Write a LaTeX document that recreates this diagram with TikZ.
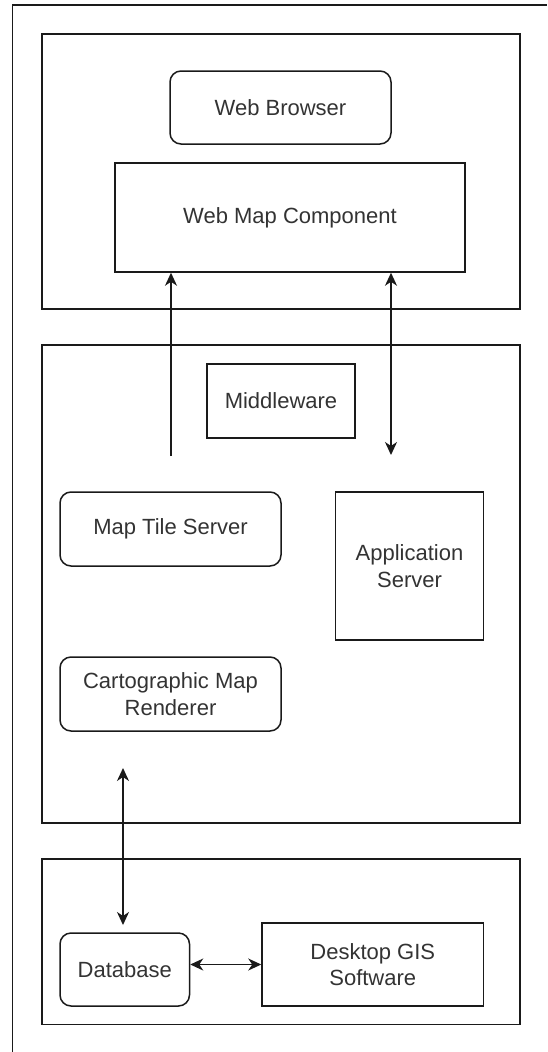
\documentclass[tikz,border=0pt]{standalone}
\usepackage{fontspec}
\setmainfont{Liberation Sans}
\usetikzlibrary{arrows.meta}
\definecolor{txt}{HTML}{333333}
\definecolor{ln}{HTML}{1A1A1A}
\begin{document}
\begin{tikzpicture}[x=1pt,y=-1pt,
  grp/.style={draw=ln, line width=1.5pt, inner sep=0pt},
  box/.style={draw=ln, line width=1.5pt, inner sep=0pt, align=center, text=txt,
              font=\fontsize{22}{26.4}\selectfont},
  rbox/.style={box, rounded corners=11pt},
  tip/.tip={Stealth[length=13pt,width=12pt,inset=4pt]},
  arr/.style={draw=ln, line width=1.5pt, -tip},
  darr/.style={draw=ln, line width=1.5pt, tip-tip}]
\useasboundingbox (0,0) rectangle (547,1052);
% outer frame (cropped at right and bottom)
\coordinate (fb) at (12.6,1052);
\coordinate (ftl) at (12.6,5);
\coordinate (fr) at (547,5);
\draw[grp] (fb) -- (ftl) -- (fr);
% groups
\node[grp, minimum width=478pt, minimum height=275pt] (gtop) at (281,171.5) {};
\node[grp, minimum width=478pt, minimum height=478pt] (gmid) at (281,584) {};
\node[grp, minimum width=478pt, minimum height=165.5pt] (gbot) at (281,941.75) {};
% top group
\node[rbox, minimum width=221pt, minimum height=73pt] (wb) at (280.5,107.5) {Web Browser};
\node[box, minimum width=350pt, minimum height=109pt] (wmc) at (290,217.5) {Web Map Component};
% middle group
\node[box, minimum width=148pt, minimum height=74pt] (mw) at (281,401) {Middleware};
\node[rbox, minimum width=221pt, minimum height=74pt] (mts) at (170.5,529) {Map Tile Server};
\node[box, minimum width=148pt, minimum height=148pt] (app) at (409.5,566) {Application\\Server};
\node[rbox, minimum width=221pt, minimum height=74pt] (cmr) at (170.5,694) {Cartographic Map\\Renderer};
% bottom group
\node[rbox, minimum width=129.5pt, minimum height=73pt] (db) at (124.75,969.5) {Database};
\node[box, minimum width=221.5pt, minimum height=83pt] (dg) at (372.75,964.5) {Desktop GIS\\Software};
% connectors
\coordinate (la) at (171,456);
\coordinate (ra) at (391,455);
\coordinate (vt) at (123,768);
\coordinate (vb) at (123,925);
\draw[arr] (la) -- (la |- wmc.south);
\draw[darr] (ra |- wmc.south) -- (ra);
\draw[darr] (vt) -- (vb);
\draw[darr] (db.east |- dg.west) -- (dg.west);
\end{tikzpicture}
\end{document}
